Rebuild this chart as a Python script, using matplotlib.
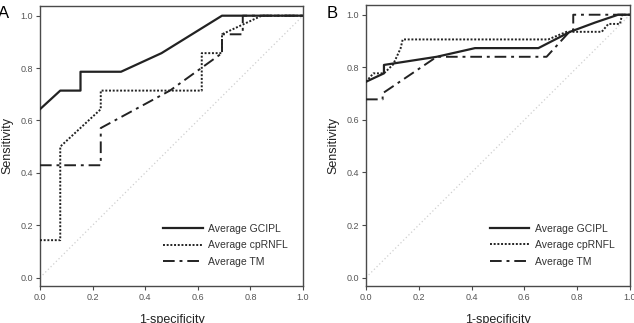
import matplotlib
matplotlib.use("Agg")
import matplotlib.pyplot as plt

plt.rcParams['font.family'] = ['Liberation Sans', 'DejaVu Sans']

# ── data ────────────────────────────────────────────────────────────────────
A_gcipl_x = [0.0, 0.077, 0.154, 0.154, 0.308, 0.462, 0.692, 1.0]
A_gcipl_y = [0.643, 0.714, 0.714, 0.786, 0.786, 0.857, 1.0, 1.0]
A_rnfl_x = [0.0, 0.077, 0.077, 0.231, 0.231, 0.615, 0.615, 0.692, 0.692, 0.843, 1.0]
A_rnfl_y = [0.143, 0.143, 0.5, 0.643, 0.714, 0.714, 0.857, 0.857, 0.929, 1.0, 1.0]
A_tm_x = [0.0, 0.231, 0.231, 0.494, 0.692, 0.692, 0.771, 0.771, 1.0]
A_tm_y = [0.429, 0.429, 0.571, 0.714, 0.857, 0.929, 0.929, 1.0, 1.0]

B_gcipl_x = [0.0, 0.068, 0.068, 0.268, 0.413, 0.653, 0.773, 0.867, 0.955, 1.0]
B_gcipl_y = [0.745, 0.777, 0.809, 0.840, 0.873, 0.873, 0.935, 0.970, 1.0, 1.0]
B_rnfl_x = [0.0, 0.028, 0.068, 0.103, 0.131, 0.139, 0.690, 0.760, 0.893, 0.918, 0.962, 0.970, 1.0]
B_rnfl_y = [0.745, 0.777, 0.777, 0.811, 0.872, 0.906, 0.906, 0.935, 0.935, 0.965, 0.965, 1.0, 1.0]
B_tm_x = [0.0, 0.063, 0.063, 0.268, 0.684, 0.775, 0.785, 0.785, 1.0]
B_tm_y = [0.678, 0.678, 0.701, 0.840, 0.840, 0.940, 0.940, 1.0, 1.0]

labels = ["Average GCIPL", "Average cpRNFL", "Average TM"]
ticks = [0.0, 0.2, 0.4, 0.6, 0.8, 1.0]
tick_labels = ["0.0", "0.2", "0.4", "0.6", "0.8", "1.0"]
# ────────────────────────────────────────────────────────────────────────────

LINE_COLOR = "#222222"
SPINE_COLOR = "#4a4a4a"
TICK_COLOR = "#555555"

fig = plt.figure(figsize=(6.34, 3.23), dpi=100)
axA = fig.add_axes([40 / 634, 37 / 323, 263 / 634, 280 / 323])
axB = fig.add_axes([366 / 634, 37 / 323, 264 / 634, 281 / 323])

panels = [
    (axA, "A", (A_gcipl_x, A_gcipl_y), (A_rnfl_x, A_rnfl_y), (A_tm_x, A_tm_y)),
    (axB, "B", (B_gcipl_x, B_gcipl_y), (B_rnfl_x, B_rnfl_y), (B_tm_x, B_tm_y)),
]

for ax, letter, g, r, t in panels:
    # reference diagonal
    ax.plot([0, 1], [0, 1], color="#cfcfcf", lw=0.9, ls=(0, (1, 2)), zorder=1)
    ax.plot(g[0], g[1], color=LINE_COLOR, lw=1.6, ls="-", label=labels[0], zorder=3)
    ax.plot(r[0], r[1], color=LINE_COLOR, lw=1.4, ls=(0, (1, 0.9)), label=labels[1], zorder=3)
    ax.plot(t[0], t[1], color=LINE_COLOR, lw=1.4, ls=(0, (6, 2.5, 1.5, 2.5)),
            label=labels[2], zorder=3)

    ax.set_xlim(0, 1)
    ax.set_ylim(-0.032, 1.037)
    ax.set_xticks(ticks)
    ax.set_xticklabels(tick_labels)
    ax.set_yticks(ticks)
    ax.set_yticklabels(tick_labels)
    ax.tick_params(axis="both", labelsize=6.5, labelcolor=TICK_COLOR,
                   color=SPINE_COLOR, length=3, width=0.8, pad=2)
    for spine in ax.spines.values():
        spine.set_color(SPINE_COLOR)
        spine.set_linewidth(1.0)

    ax.set_xlabel("1-specificity", fontsize=9, color="#222222", labelpad=9)
    ax.set_ylabel("Sensitivity", fontsize=9, color="#222222", labelpad=5)

    ax.legend(loc="upper left", bbox_to_anchor=(0.468, 0.222), frameon=False,
              fontsize=7.5, handlelength=3.8, handletextpad=0.55,
              labelspacing=0.62, borderpad=0, borderaxespad=0,
              labelcolor="#333333")

fig.text(-2 / 634, 1 - 14 / 323, "A", fontsize=12, va="center", ha="left")
fig.text(327 / 634, 1 - 14 / 323, "B", fontsize=12, va="center", ha="left")

fig.savefig("out.png", dpi=100)
